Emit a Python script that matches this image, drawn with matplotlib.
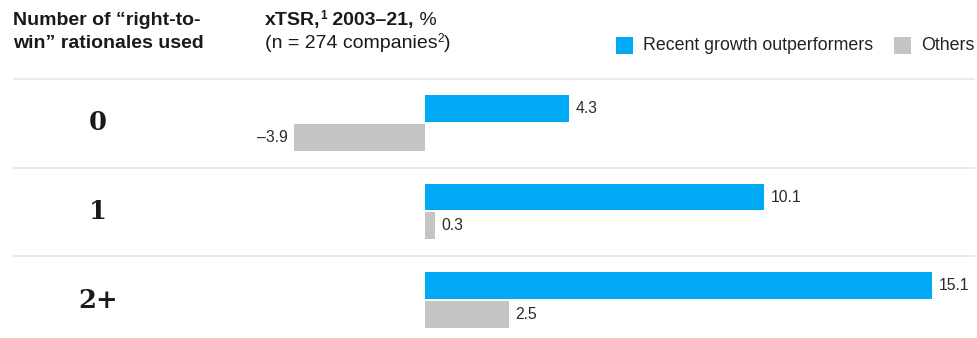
import matplotlib
matplotlib.use("Agg")
import matplotlib.pyplot as plt
import matplotlib.transforms as mtransforms
from matplotlib.patches import Rectangle

# ---- data -------------------------------------------------------------
categories = ["0", "1", "2+"]
outperformers = [4.3, 10.1, 15.1]
others = [-3.9, 0.3, 2.5]
series_names = ["Recent growth outperformers", "Others"]

BLUE = "#00A9F4"
GREY = "#C4C4C4"
TEXT = "#1A1A1A"
LINE = "#E6E6E6"

W, H, DPI = 977, 338, 100
fig = plt.figure(figsize=(W / DPI, H / DPI), dpi=DPI)
plt.rcParams["font.family"] = ["Liberation Sans", "DejaVu Sans"]

# axes geometry in pixels
px_left, px_right = 13, 975
px_top, px_bottom = 78, 338
zero_px = 425
scale = 33.6  # pixels per percentage point
row_h = 89.0
row0_center = 122.0

ax = fig.add_axes([px_left / W, 0, (px_right - px_left) / W, (px_bottom - px_top) / H])
ax.set_xlim(-(zero_px - px_left) / scale, (px_right - zero_px) / scale)
ax.set_ylim((px_bottom - row0_center) / row_h, (px_top - 1 - row0_center) / row_h)
ax.axis("off")

bar_h = 27 / row_h
off = 14.5 / row_h
ys = list(range(len(categories)))

ax.barh([y - off for y in ys], outperformers, height=bar_h, color=BLUE, linewidth=0)
ax.barh([y + off for y in ys], others, height=bar_h, color=GREY, linewidth=0)

def fmt(v):
    return ("–" if v < 0 else "") + f"{abs(v):.1f}"

for y, v in zip(ys, outperformers):
    ax.annotate(fmt(v), (v, y - off), xytext=(4.5, 0), textcoords="offset points",
                ha="left", va="center", fontsize=11.3, color="#2a2a2a")
for y, v in zip(ys, others):
    ax.annotate(fmt(v), (v, y + off), xytext=(4.5 if v >= 0 else -4.5, 0),
                textcoords="offset points", ha="left" if v >= 0 else "right",
                va="center", fontsize=11.3, color="#2a2a2a")

# row separators
for y in ys:
    ax.axhline(y - (row0_center - px_top) / row_h, color=LINE, linewidth=1.2)

# category labels
trans = mtransforms.blended_transform_factory(fig.transFigure, ax.transData)
for y, c in zip(ys, categories):
    ax.text(98 / W, y, c, transform=trans, ha="center", va="center",
            fontsize=18.5, family="DejaVu Serif", fontweight="semibold", color=TEXT)

# headers
def fy(px):
    return 1 - px / H

HEAD = 14
SUP = 8.5
fig.text(13 / W, fy(25), "Number of “right-to-", ha="left", va="baseline",
         fontsize=HEAD, fontweight="bold", color=TEXT)
fig.text(13 / W, fy(48), "win” rationales used", ha="left", va="baseline",
         fontsize=HEAD, fontweight="bold", color=TEXT)

renderer = fig.canvas.get_renderer()

def run(pieces, x_px, y_px):
    """Draw text pieces one after another on a shared baseline."""
    x = x_px
    for txt, rise, kw in pieces:
        t = fig.text(x / W, fy(y_px - rise), txt, ha="left", va="baseline", color=TEXT, **kw)
        x = t.get_window_extent(renderer=renderer).x1
    return x

run([("xTSR,", 0, dict(fontsize=HEAD, fontweight="bold")),
     ("1", 6, dict(fontsize=SUP, fontweight="bold")),
     (" 2003–21,", 0, dict(fontsize=HEAD, fontweight="bold")),
     (" %", 0, dict(fontsize=HEAD))], 265, 25)
run([("(n = 274 companies", 0, dict(fontsize=HEAD)),
     ("2", 6, dict(fontsize=SUP)),
     (")", 0, dict(fontsize=HEAD))], 265, 48)

# legend
lx = 616
for name, col in zip(series_names, [BLUE, GREY]):
    fig.patches.append(Rectangle((lx / W, fy(54)), 17 / W, 17 / H, transform=fig.transFigure,
                                 facecolor=col, edgecolor="none"))
    t = fig.text((lx + 27) / W, fy(46), name, ha="left", va="center", fontsize=12.8, color="#222222")
    lx = t.get_window_extent(renderer=renderer).x1 + 21

fig.savefig("out.png", dpi=DPI, facecolor="white")
